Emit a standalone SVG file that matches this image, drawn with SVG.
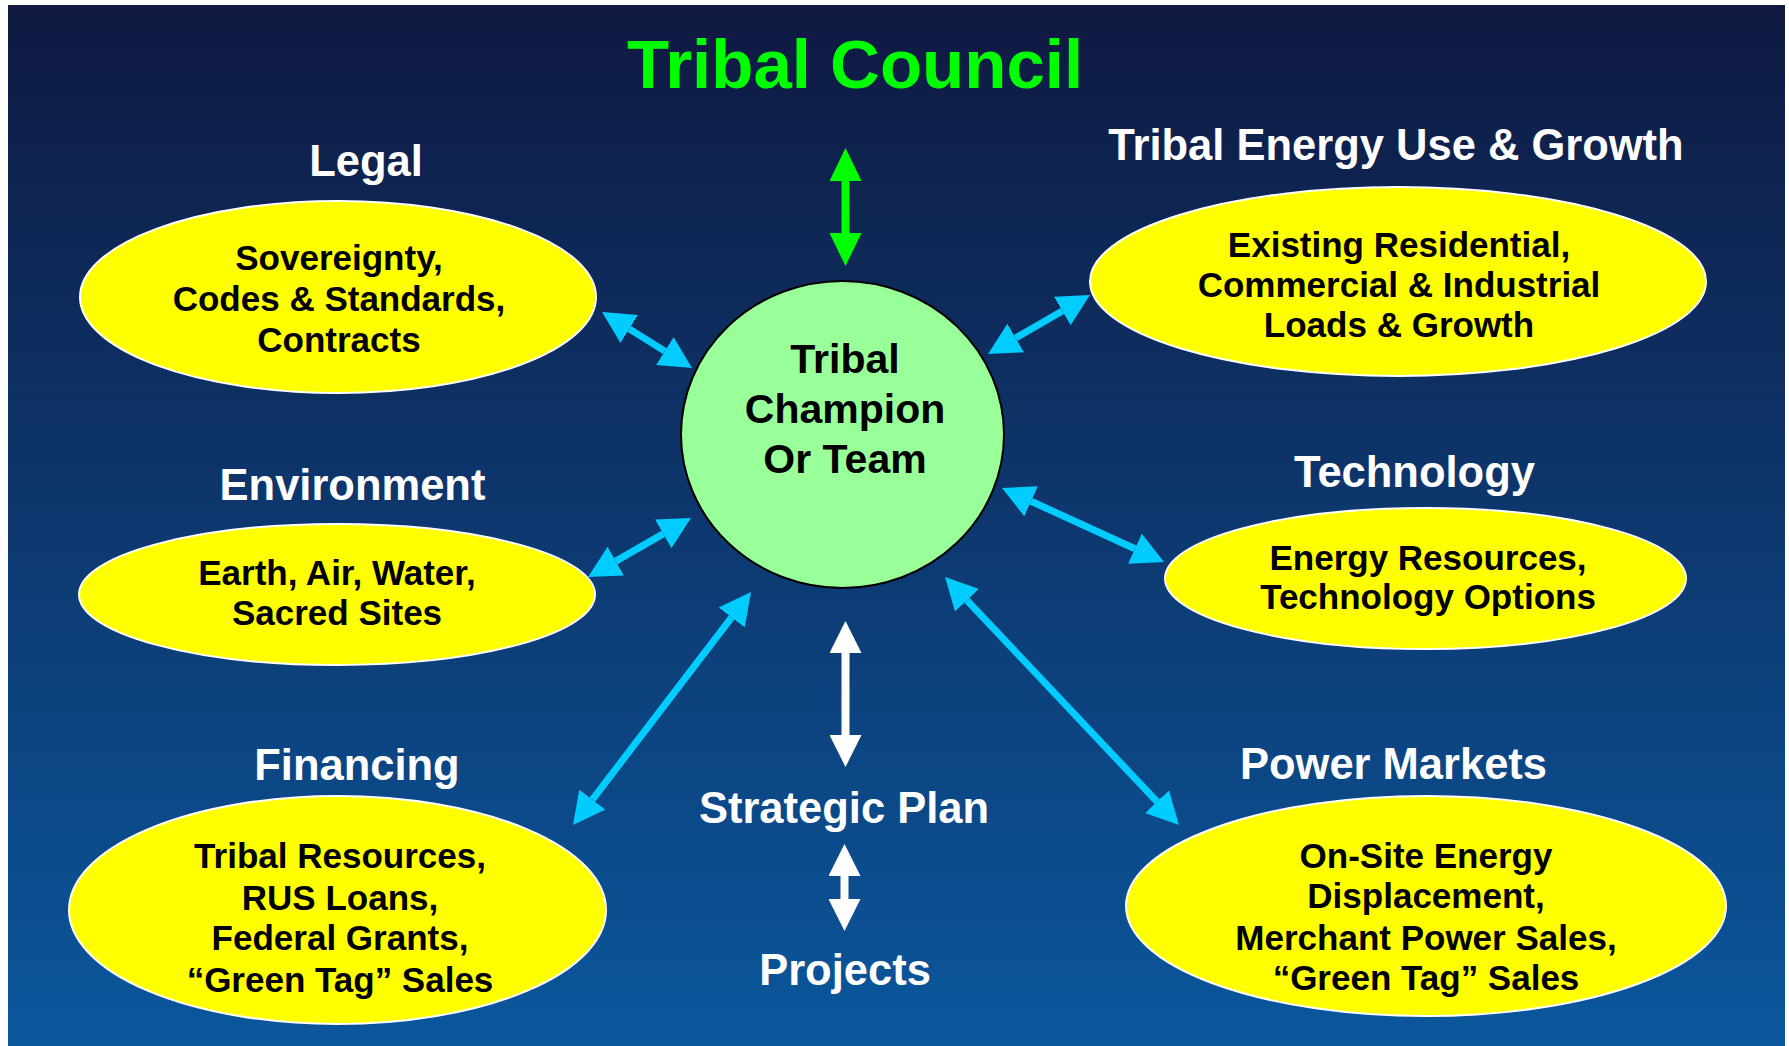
<svg xmlns="http://www.w3.org/2000/svg" width="1789" height="1046" viewBox="0 0 1789 1046">
<defs>
<linearGradient id="bg" x1="0" y1="0" x2="0" y2="1">
<stop offset="0" stop-color="#0f1941"/>
<stop offset="1" stop-color="#0b579d"/>
</linearGradient>
<marker id="hb" viewBox="0 0 32 33" refX="0" refY="16.5" markerWidth="32" markerHeight="33" markerUnits="userSpaceOnUse" orient="auto-start-reverse"><path d="M0,0 L32,16.5 L0,33 Z" fill="#00ccff"/></marker>
<marker id="hg" viewBox="0 0 33 32" refX="0" refY="16" markerWidth="33" markerHeight="32" markerUnits="userSpaceOnUse" orient="auto-start-reverse"><path d="M0,0 L33,16 L0,32 Z" fill="#00ff00"/></marker>
<marker id="hw" viewBox="0 0 32 32" refX="0" refY="16" markerWidth="32" markerHeight="32" markerUnits="userSpaceOnUse" orient="auto-start-reverse"><path d="M0,0 L32,16 L0,32 Z" fill="#ffffff"/></marker>
</defs>
<style>
.lbl{font-family:"Liberation Sans",Arial,sans-serif;font-weight:bold;font-size:43.5px;fill:#ffffff;text-anchor:middle}
.ell{fill:#ffff00;stroke:#ffffff;stroke-width:2}
.et{font-family:"Liberation Sans",Arial,sans-serif;font-weight:bold;font-size:35px;fill:#000000;text-anchor:middle}
.ct{font-family:"Liberation Sans",Arial,sans-serif;font-weight:bold;font-size:41px;fill:#000000;text-anchor:middle}
.ab{stroke:#00ccff;stroke-width:7;fill:none;marker-start:url(#hb);marker-end:url(#hb)}
.ag{stroke:#00ff00;stroke-width:8;fill:none;marker-start:url(#hg);marker-end:url(#hg)}
.aw{stroke:#ffffff;stroke-width:8;fill:none;marker-start:url(#hw);marker-end:url(#hw)}
</style>
<rect x="0" y="0" width="1789" height="1046" fill="#ffffff"/>
<rect x="8" y="5" width="1777" height="1041" fill="url(#bg)"/>
<text x="855" y="88" font-family="'Liberation Sans',Arial,sans-serif" font-weight="bold" font-size="69" fill="#00ff00" text-anchor="middle">Tribal Council</text>

<g id="connectors">
<line class="ag" x1="845.5" y1="181" x2="845.5" y2="233"/>
<line class="aw" x1="845.5" y1="653" x2="845.5" y2="735"/>
<line class="aw" x1="844.5" y1="876" x2="844.5" y2="899"/>
<line class="ab" x1="629.2" y1="328.9" x2="664.8" y2="351.1"/>
<line class="ab" x1="615.8" y1="561.1" x2="663.2" y2="533.9"/>
<line class="ab" x1="592.4" y1="799.6" x2="731.6" y2="617.4"/>
<line class="ab" x1="1015.7" y1="338" x2="1062.3" y2="311"/>
<line class="ab" x1="1031.1" y1="501.3" x2="1134.9" y2="548.7"/>
<line class="ab" x1="967" y1="600.3" x2="1157" y2="801.7"/>
</g>

<g id="champion">
<ellipse cx="842.5" cy="434.5" rx="161.5" ry="153.5" fill="#99ff99" stroke="#000000" stroke-width="2"/>
<text class="ct" x="845" y="373">Tribal</text>
<text class="ct" x="845" y="423">Champion</text>
<text class="ct" x="845" y="473">Or Team</text>
</g>

<g id="legal">
<text class="lbl" x="366" y="176">Legal</text>
<ellipse class="ell" cx="338" cy="297" rx="258" ry="96"/>
<text class="et" x="339" y="270">Sovereignty,</text>
<text class="et" x="339" y="311">Codes &amp; Standards,</text>
<text class="et" x="339" y="352">Contracts</text>
</g>

<g id="energy">
<text class="lbl" x="1396" y="160">Tribal Energy Use &amp; Growth</text>
<ellipse class="ell" cx="1398" cy="281.5" rx="308" ry="94.5"/>
<text class="et" x="1399" y="257">Existing Residential,</text>
<text class="et" x="1399" y="297">Commercial &amp; Industrial</text>
<text class="et" x="1399" y="337">Loads &amp; Growth</text>
</g>

<g id="environment">
<text class="lbl" x="352.5" y="500">Environment</text>
<ellipse class="ell" cx="337" cy="594.5" rx="258" ry="70.5"/>
<text class="et" x="337" y="585">Earth, Air, Water,</text>
<text class="et" x="337" y="625">Sacred Sites</text>
</g>

<g id="technology">
<text class="lbl" x="1414.5" y="487">Technology</text>
<ellipse class="ell" cx="1425.5" cy="578.5" rx="260.5" ry="70.5"/>
<text class="et" x="1428" y="570">Energy Resources,</text>
<text class="et" x="1428" y="609">Technology Options</text>
</g>

<g id="financing">
<text class="lbl" x="357" y="780">Financing</text>
<ellipse class="ell" cx="337.5" cy="910" rx="268.5" ry="114"/>
<text class="et" x="340" y="868">Tribal Resources,</text>
<text class="et" x="340" y="910">RUS Loans,</text>
<text class="et" x="340" y="950">Federal Grants,</text>
<text class="et" x="340" y="992">“Green Tag” Sales</text>
</g>

<g id="power">
<text class="lbl" x="1393.5" y="779">Power Markets</text>
<ellipse class="ell" cx="1426" cy="906" rx="300" ry="110"/>
<text class="et" x="1426" y="868">On-Site Energy</text>
<text class="et" x="1426" y="908">Displacement,</text>
<text class="et" x="1426" y="950">Merchant Power Sales,</text>
<text class="et" x="1426" y="990">“Green Tag” Sales</text>
</g>

<g id="strategic-plan">
<text class="lbl" x="844" y="823">Strategic Plan</text>
</g>

<g id="projects">
<text class="lbl" x="845" y="985">Projects</text>
</g>
</svg>
